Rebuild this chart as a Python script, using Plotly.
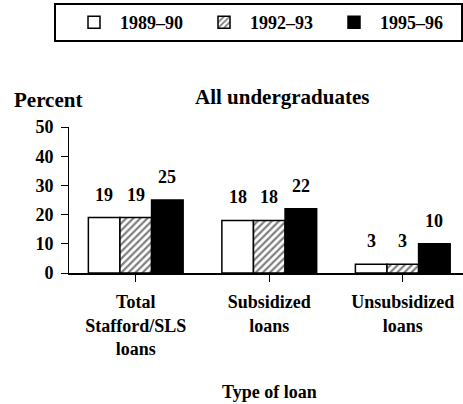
import plotly.graph_objects as go

categories = ["Total<br>Stafford/SLS<br>loans", "Subsidized<br>loans", "Unsubsidized<br>loans"]
series_names = ["1989\u201390", "1992\u201393", "1995\u201396"]
values_8990 = [19, 18, 3]
values_9293 = [19, 18, 3]
values_9596 = [25, 22, 10]
y_ticks = [0, 10, 20, 30, 40, 50]

FONT = "Liberation Serif"
W, H = 463, 404
ML, MR, MT, MB = 69, 0, 127, 131
PW, PH = W - ML - MR, H - MT - MB

series = [values_8990, values_9293, values_9596]
fills = [
    dict(color="white", line=dict(color="black", width=1.5)),
    dict(color="white", line=dict(color="black", width=1.5),
         pattern=dict(shape="/", fgcolor="black", bgcolor="white", size=5, solidity=0.45)),
    dict(color="black", line=dict(color="black", width=1.5)),
]

fig = go.Figure()
for name, vals, mk in zip(series_names, series, fills):
    fig.add_trace(go.Bar(x=list(range(len(categories))), y=vals, name=name, marker=mk))

bargap = 0.29
w = (1 - bargap) / 3
tf = dict(family=FONT, size=18, color="black", weight="bold")
tf_big = dict(family=FONT, size=21, color="black", weight="bold")
annotations = []
for j, vals in enumerate(series):
    for i, v in enumerate(vals):
        annotations.append(dict(
            x=i + (j - 1) * w, y=v, xref="x", yref="y", text=str(v),
            showarrow=False, yanchor="middle", yshift=23, font=tf))

def px_x(p):
    return (p - ML) / PW

def px_y(p):
    return (H - MB - p) / PH

annotations += [
    dict(x=px_x(12), y=px_y(100), xref="paper", yref="paper", xanchor="left", yanchor="middle",
         text="Percent", showarrow=False, font=tf_big),
    dict(x=px_x(282), y=px_y(97), xref="paper", yref="paper", xanchor="center", yanchor="middle",
         text="All undergraduates", showarrow=False, font=tf_big),
    dict(x=1, y=0, xref="x", yref="paper", xanchor="center", yanchor="middle",
         yshift=-119, text="Type of loan", showarrow=False, font=tf),
]

fig.update_layout(
    width=W, height=H,
    margin=dict(l=ML, r=MR, t=MT, b=MB),
    paper_bgcolor="white", plot_bgcolor="white",
    barmode="group", bargap=bargap, bargroupgap=0,
    font=tf,
    showlegend=True,
    legend=dict(orientation="h", x=68 / W, xref="container", xanchor="left",
                y=1 - 22.5 / H, yref="container", yanchor="middle",
                borderwidth=0, bgcolor="rgba(0,0,0,0)", itemwidth=42,
                entrywidth=73, entrywidthmode="pixels", font=tf),
    shapes=[dict(type="rect", xref="paper", yref="paper",
                 x0=px_x(55), x1=px_x(462), y0=px_y(41), y1=px_y(4),
                 line=dict(color="black", width=2), fillcolor="rgba(0,0,0,0)")],
    annotations=annotations,
)
fig.update_xaxes(
    tickmode="array", tickvals=list(range(len(categories))), ticktext=categories,
    range=[-0.5, 2.451], showline=True, linecolor="black", linewidth=1.5,
    ticks="outside", tickson="boundaries", ticklen=7, tickcolor="black", tickwidth=1,
    showgrid=False, zeroline=False, ticklabelstandoff=5, tickfont=tf,
)
fig.update_yaxes(
    range=[0, 50], tickvals=y_ticks, showline=True, linecolor="black", linewidth=1,
    ticks="outside", ticklen=7, tickcolor="black", showgrid=False, zeroline=False,
    ticklabelstandoff=4, tickfont=tf,
)
fig.write_html("out.html", config={"displayModeBar": False},
               post_script="document.body.style.margin='0';")
